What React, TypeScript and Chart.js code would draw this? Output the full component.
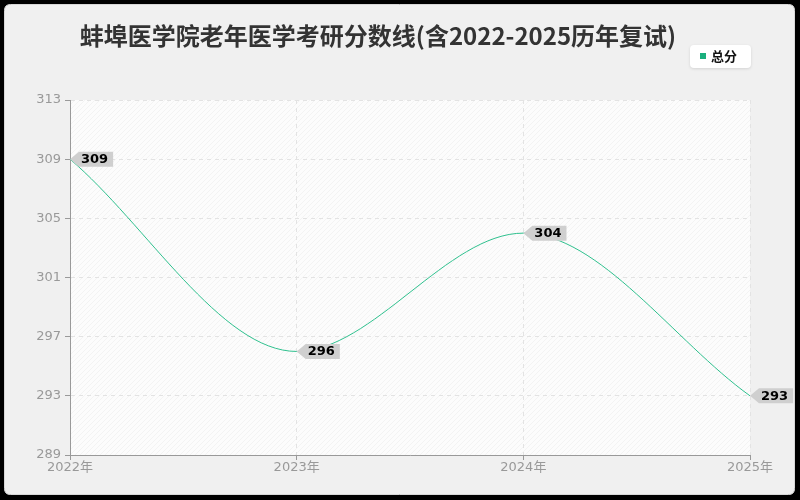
import { useEffect, useRef } from "react";
import { Chart, registerables } from "chart.js";

Chart.register(...registerables);

const years = ["2022年", "2023年", "2024年", "2025年"];
const totalScores = [309, 296, 304, 293];
const yTicks = [289, 293, 297, 301, 305, 309, 313];

const titleText = "蚌埠医学院老年医学考研分数线(含2022-2025历年复试)";
const legendText = "总分";
const lineColor = "#2fc08e";
const FONT = "'Noto Sans CJK SC', 'Noto Sans', sans-serif";
const TICK_FONT = "'DejaVu Sans', 'Noto Sans CJK SC', sans-serif";

function roundRect(ctx: CanvasRenderingContext2D, x: number, y: number, w: number, h: number, r: number) {
  ctx.beginPath();
  ctx.moveTo(x + r, y);
  ctx.lineTo(x + w - r, y);
  ctx.quadraticCurveTo(x + w, y, x + w, y + r);
  ctx.lineTo(x + w, y + h - r);
  ctx.quadraticCurveTo(x + w, y + h, x + w - r, y + h);
  ctx.lineTo(x + r, y + h);
  ctx.quadraticCurveTo(x, y + h, x, y + h - r);
  ctx.lineTo(x, y + r);
  ctx.quadraticCurveTo(x, y, x + r, y);
  ctx.closePath();
}

// frame, panel, title, legend, hatched plot background
const backdrop = {
  id: "backdrop",
  beforeDraw(chart: any) {
    const { ctx, width, height, chartArea: a } = chart;
    ctx.save();
    ctx.fillStyle = "#000";
    ctx.fillRect(0, 0, width, height);
    roundRect(ctx, 4.5, 4.5, width - 10, height - 10, 6);
    ctx.fillStyle = "#f0f0f0";
    ctx.fill();
    ctx.strokeStyle = "#d8d8d8";
    ctx.lineWidth = 1;
    ctx.stroke();

    // plot area
    ctx.fillStyle = "#fcfcfc";
    ctx.fillRect(a.left, a.top, a.right - a.left, a.bottom - a.top);
    ctx.beginPath();
    ctx.rect(a.left, a.top, a.right - a.left, a.bottom - a.top);
    ctx.clip();
    ctx.strokeStyle = "rgba(0,0,0,0.035)";
    ctx.lineWidth = 1;
    const h = a.bottom - a.top;
    for (let x = a.left - h; x < a.right + h; x += 5) {
      ctx.beginPath();
      ctx.moveTo(x, a.bottom);
      ctx.lineTo(x + h, a.top);
      ctx.stroke();
    }
    ctx.restore();

    // title
    ctx.save();
    ctx.fillStyle = "#333";
    ctx.font = `bold 24px ${FONT}`;
    ctx.textAlign = "center";
    ctx.textBaseline = "middle";
    ctx.fillText(titleText, 378, 36);

    // legend
    ctx.shadowColor = "rgba(0,0,0,0.12)";
    ctx.shadowBlur = 3;
    ctx.shadowOffsetY = 1;
    roundRect(ctx, 690, 45, 61, 23, 4);
    ctx.fillStyle = "#fff";
    ctx.fill();
    ctx.shadowColor = "transparent";
    ctx.fillStyle = "#1aaf7d";
    ctx.fillRect(700, 53, 6, 6);
    ctx.fillStyle = "#111";
    ctx.font = `bold 13px ${FONT}`;
    ctx.textAlign = "left";
    ctx.fillText(legendText, 711, 56);
    ctx.restore();
  },
};

// grey arrow tags with the value beside each point
const valueTags = {
  id: "valueTags",
  afterDatasetsDraw(chart: any) {
    const { ctx } = chart;
    const meta = chart.getDatasetMeta(0);
    ctx.save();
    ctx.font = `bold 13px ${TICK_FONT}`;
    ctx.textBaseline = "middle";
    meta.data.forEach((pt: any, i: number) => {
      const x = pt.x;
      const y = pt.y;
      const txt = String(totalScores[i]);
      const tw = ctx.measureText(txt).width;
      const w = tw + 16;
      ctx.beginPath();
      ctx.moveTo(x, y);
      ctx.lineTo(x + 9, y - 7.5);
      ctx.lineTo(x + w, y - 7.5);
      ctx.lineTo(x + w, y + 7.5);
      ctx.lineTo(x + 9, y + 7.5);
      ctx.closePath();
      ctx.fillStyle = "#cfcfcf";
      ctx.fill();
      ctx.fillStyle = "#000";
      ctx.fillText(txt, x + 11, y + 0.5);
    });
    ctx.restore();
  },
};

export default function App() {
  const ref = useRef<HTMLCanvasElement | null>(null);

  useEffect(() => {
    document.body.style.margin = "0";
    if (!ref.current) return;
    const chart = new Chart(ref.current, {
      type: "line",
      data: {
        labels: years,
        datasets: [
          {
            label: legendText,
            data: totalScores,
            borderColor: lineColor,
            backgroundColor: lineColor,
            borderWidth: 1,
            pointRadius: 0,
            cubicInterpolationMode: "monotone",
            fill: false,
          },
        ],
      },
      options: {
        animation: false,
        responsive: false,
        devicePixelRatio: 1,
        layout: { padding: { left: 0, right: 50, top: 100, bottom: 0 } },
        plugins: {
          legend: { display: false },
          title: { display: false },
          tooltip: { enabled: false },
        },
        scales: {
          x: {
            offset: false,
            afterFit: (s: any) => { s.height = 45; },
            border: { color: "#999", width: 1, dash: [4, 4] },
            grid: { color: "#e3e3e3", tickColor: "#999", tickLength: 5, drawOnChartArea: true },
            ticks: { color: "#999", font: { size: 13, family: TICK_FONT }, padding: 0, maxRotation: 0 },
          },
          y: {
            min: 289,
            max: 313,
            afterFit: (s: any) => { s.width = 70; },
            afterBuildTicks: (s: any) => { s.ticks = yTicks.map((v) => ({ value: v })); },
            border: { color: "#999", width: 1, dash: [4, 4] },
            grid: { color: "#e3e3e3", tickColor: "#999", tickLength: 5 },
            ticks: { color: "#999", font: { size: 13, family: TICK_FONT }, padding: 4 },
          },
        },
      },
      plugins: [backdrop, valueTags],
    });
    return () => chart.destroy();
  }, []);

  return <canvas ref={ref} width={800} height={500} style={{ display: "block" }} />;
}
